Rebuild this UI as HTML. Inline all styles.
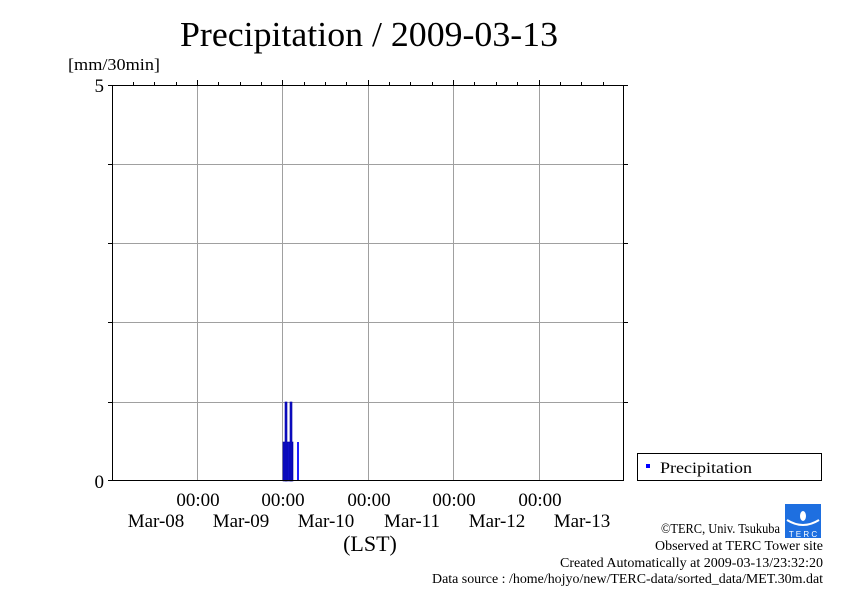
<!DOCTYPE html>
<html><head><style>html,body{margin:0;background:#fff;overflow:hidden;width:842px;height:595px}svg{display:block}</style></head><body>
<svg width="842" height="595" xmlns="http://www.w3.org/2000/svg" font-family="Liberation Serif, serif">
<text x="180" y="46" font-size="35" textLength="378" lengthAdjust="spacingAndGlyphs">Precipitation / 2009-03-13</text>
<text x="68" y="70" font-size="17" textLength="92" lengthAdjust="spacingAndGlyphs">[mm/30min]</text>
<text x="104" y="92" font-size="19" text-anchor="end">5</text>
<text x="104" y="488" font-size="19" text-anchor="end">0</text>
<g stroke="#a0a0a0" stroke-width="1">
<line x1="197.5" y1="85" x2="197.5" y2="481"/><line x1="282.5" y1="85" x2="282.5" y2="481"/>
<line x1="368.5" y1="85" x2="368.5" y2="481"/><line x1="453.5" y1="85" x2="453.5" y2="481"/>
<line x1="539.5" y1="85" x2="539.5" y2="481"/>
<line x1="112" y1="164.5" x2="624" y2="164.5"/><line x1="112" y1="243.5" x2="624" y2="243.5"/>
<line x1="112" y1="322.5" x2="624" y2="322.5"/><line x1="112" y1="402.5" x2="624" y2="402.5"/>
</g>
<g stroke="#000" stroke-width="1" id="t">
<line x1="133.5" y1="85" x2="133.5" y2="82"/><line x1="154.5" y1="85" x2="154.5" y2="82"/><line x1="176.5" y1="85" x2="176.5" y2="82"/><line x1="197.5" y1="85" x2="197.5" y2="80"/>
<line x1="218.5" y1="85" x2="218.5" y2="82"/><line x1="240.5" y1="85" x2="240.5" y2="82"/><line x1="261.5" y1="85" x2="261.5" y2="82"/><line x1="282.5" y1="85" x2="282.5" y2="80"/>
<line x1="304.5" y1="85" x2="304.5" y2="82"/><line x1="325.5" y1="85" x2="325.5" y2="82"/><line x1="346.5" y1="85" x2="346.5" y2="82"/><line x1="368.5" y1="85" x2="368.5" y2="80"/>
<line x1="389.5" y1="85" x2="389.5" y2="82"/><line x1="410.5" y1="85" x2="410.5" y2="82"/><line x1="432.5" y1="85" x2="432.5" y2="82"/><line x1="453.5" y1="85" x2="453.5" y2="80"/>
<line x1="474.5" y1="85" x2="474.5" y2="82"/><line x1="496.5" y1="85" x2="496.5" y2="82"/><line x1="517.5" y1="85" x2="517.5" y2="82"/><line x1="539.5" y1="85" x2="539.5" y2="80"/>
<line x1="560.5" y1="85" x2="560.5" y2="82"/><line x1="581.5" y1="85" x2="581.5" y2="82"/><line x1="603.5" y1="85" x2="603.5" y2="82"/>
</g>
<use href="#t" transform="translate(0,966) scale(1,-1)"/>
<g stroke="#000"><line x1="112" y1="164.5" x2="108" y2="164.5"/><line x1="112" y1="243.5" x2="108" y2="243.5"/><line x1="112" y1="322.5" x2="108" y2="322.5"/><line x1="112" y1="402.5" x2="108" y2="402.5"/><line x1="112" y1="85.5" x2="108" y2="85.5"/><line x1="112" y1="480.5" x2="108" y2="480.5"/>
<line x1="624" y1="164.5" x2="628" y2="164.5"/><line x1="624" y1="243.5" x2="628" y2="243.5"/><line x1="624" y1="322.5" x2="628" y2="322.5"/><line x1="624" y1="402.5" x2="628" y2="402.5"/><line x1="624" y1="85.5" x2="628" y2="85.5"/></g>
<g fill="#1010c8" stroke="#0000a0" stroke-width="0.6">
<rect x="283" y="442" width="10" height="39"/>
<rect x="285" y="402" width="2" height="79"/>
<rect x="290" y="402" width="2" height="79"/>
</g>
<rect x="297" y="442" width="2" height="39" fill="#2020ff"/>
<rect x="112.5" y="85.5" width="511" height="395" fill="none" stroke="#000" stroke-width="1"/>
<g font-size="19" text-anchor="middle">
<text x="198" y="506">00:00</text><text x="283" y="506">00:00</text><text x="369" y="506">00:00</text><text x="454" y="506">00:00</text><text x="540" y="506">00:00</text>
<text x="156" y="527">Mar-08</text><text x="241" y="527">Mar-09</text><text x="326" y="527">Mar-10</text><text x="412" y="527">Mar-11</text><text x="497" y="527">Mar-12</text><text x="582" y="527">Mar-13</text>
<text x="370" y="551" font-size="22">(LST)</text>
</g>
<rect x="637.5" y="453.5" width="184" height="27" fill="#fff" stroke="#000"/>
<rect x="646" y="464" width="4" height="4" fill="#0000ff"/>
<text x="660" y="473" font-size="16" textLength="92" lengthAdjust="spacingAndGlyphs">Precipitation</text>
<g font-size="13.5">
<text x="661" y="533" textLength="119" lengthAdjust="spacingAndGlyphs">©TERC, Univ. Tsukuba</text>
<text x="655" y="550" textLength="168" lengthAdjust="spacingAndGlyphs">Observed at TERC Tower site</text>
<text x="560" y="567" textLength="263" lengthAdjust="spacingAndGlyphs">Created Automatically at 2009-03-13/23:32:20</text>
<text x="432" y="583" textLength="391" lengthAdjust="spacingAndGlyphs">Data source : /home/hojyo/new/TERC-data/sorted_data/MET.30m.dat</text>
</g>
<rect x="785" y="504" width="36" height="34" fill="#1e6fe0"/>
<path d="M787 520 Q803 530 819 520" stroke="#fff" stroke-width="2" fill="none"/>
<ellipse cx="803" cy="516" rx="3" ry="5" fill="#fff"/>
<text x="803" y="537" font-size="8" fill="#fff" text-anchor="middle" font-family="Liberation Sans,sans-serif">T E R C</text>
</svg>
</body></html>
